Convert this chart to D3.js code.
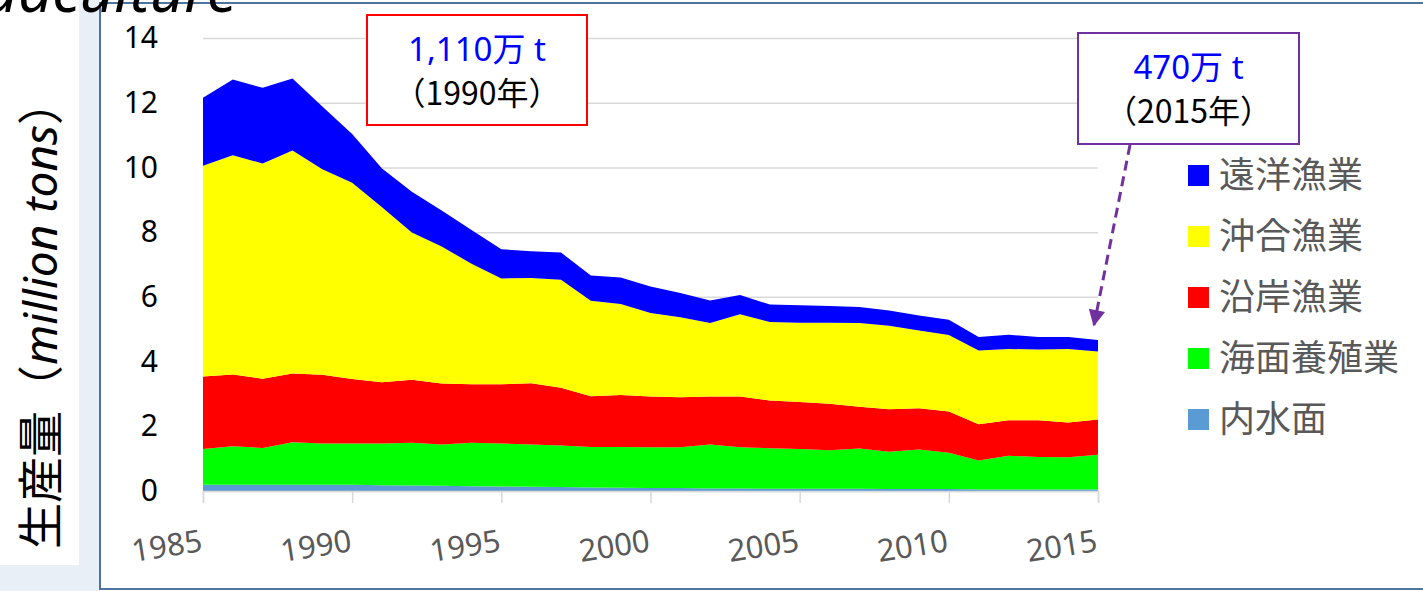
<!DOCTYPE html>
<html>
<head>
<meta charset="utf-8">
<script src="https://d3js.org/d3.v7.min.js"></script>
<style>
    body { margin: 0; background: #fff; }
    svg text { font-family: "Noto Sans", "Noto Sans CJK JP", sans-serif; }
    .cjk { font-family: "Noto Sans CJK JP", "Noto Sans", sans-serif; }
</style>
</head>
<body>
<svg width="1423" height="591"></svg>
<script>
    // production by sector, million tons
    let years = d3.range(1985, 2016)
    let inland      = [0.19,0.19,0.19,0.19,0.19,0.19,0.18,0.17,0.16,0.15,0.14,0.13,0.12,0.11,0.10,0.09,0.09,0.08,0.08,0.07,0.07,0.07,0.07,0.06,0.06,0.06,0.05,0.05,0.05,0.05,0.05]
    let aquaculture = [1.11,1.19,1.14,1.32,1.28,1.28,1.29,1.32,1.28,1.34,1.33,1.31,1.29,1.25,1.26,1.26,1.26,1.36,1.27,1.25,1.23,1.19,1.24,1.15,1.22,1.12,0.89,1.04,1.00,0.99,1.07]
    let coastal     = [2.24,2.22,2.14,2.12,2.12,1.99,1.89,1.95,1.88,1.81,1.83,1.89,1.78,1.57,1.61,1.57,1.55,1.48,1.57,1.48,1.45,1.44,1.29,1.32,1.28,1.28,1.12,1.10,1.14,1.08,1.09]
    let offshore    = [6.51,6.78,6.65,6.89,6.35,6.07,5.41,4.55,4.24,3.72,3.27,3.25,3.34,2.95,2.81,2.58,2.47,2.27,2.54,2.42,2.45,2.50,2.59,2.58,2.40,2.36,2.28,2.20,2.18,2.27,2.10]
    let distant     = [2.10,2.34,2.34,2.23,1.94,1.50,1.20,1.26,1.11,1.05,0.90,0.83,0.84,0.78,0.82,0.82,0.75,0.70,0.60,0.54,0.54,0.52,0.50,0.47,0.46,0.47,0.42,0.44,0.39,0.37,0.36]

    let keys   = ['inland', 'aquaculture', 'coastal', 'offshore', 'distant']
    let names  = {distant: '遠洋漁業', offshore: '沖合漁業', coastal: '沿岸漁業', aquaculture: '海面養殖業', inland: '内水面'}
    let colors = {distant: '#0000ff', offshore: '#ffff00', coastal: '#ff0000', aquaculture: '#00ff00', inland: '#5b9bd5'}
    let yTicks = [0, 2, 4, 6, 8, 10, 12, 14]
    let xTicks = [1985, 1990, 1995, 2000, 2005, 2010, 2015]

    let rows = years.map((yr, i) => ({
        year: yr, inland: inland[i], aquaculture: aquaculture[i],
        coastal: coastal[i], offshore: offshore[i], distant: distant[i]
    }))

    let svg = d3.select('svg')

    // slide background, left strip and panel frame
    svg.append('rect').attr('x', 0).attr('y', 0).attr('width', 100).attr('height', 591).attr('fill', '#e9eff7')
    svg.append('rect').attr('x', 0).attr('y', 0).attr('width', 79).attr('height', 565).attr('fill', '#fff')
    svg.append('rect').attr('x', 100).attr('y', 3).attr('width', 1330).attr('height', 586)
        .attr('fill', '#fff').attr('stroke', '#3a6796').attr('stroke-width', 1.8)

    // slide title, cut off by the top edge
    svg.append('text')
        .attr('x', 237).attr('y', 12)
        .attr('text-anchor', 'end')
        .attr('font-size', 60).attr('font-style', 'italic')
        .attr('fill', '#000')
        .text('Aquaculture')

    let x = d3.scaleLinear().domain([1985, 2015]).range([203, 1098])
    let y = d3.scaleLinear().domain([0, 14]).range([491, 38])

    // gridlines + y tick labels
    let yAxis = svg.append('g')
        .attr('transform', 'translate(203,0)')
        .call(d3.axisLeft(y).tickValues(yTicks).tickSize(-(1098 - 203)).tickPadding(45))
    yAxis.select('.domain').remove()
    yAxis.selectAll('line').attr('stroke', '#d9d9d9').attr('stroke-width', 1.5)
    yAxis.selectAll('text').attr('font-size', 30).attr('fill', '#000')
        .attr('font-family', '"Noto Sans", sans-serif')

    let stack = d3.stack().keys(keys)
    let series = stack(rows)
    let area = d3.area()
        .x(d => x(d.data.year))
        .y0(d => y(d[0]))
        .y1(d => y(d[1]))

    svg.append('g').selectAll('path')
        .data(series)
        .enter()
        .append('path')
        .attr('d', area)
        .attr('fill', d => colors[d.key])

    // x axis
    let xAxis = svg.append('g')
        .attr('transform', 'translate(0,491)')
        .call(d3.axisBottom(x).tickValues(xTicks).tickFormat(d3.format('d')).tickSize(12))
    xAxis.select('.domain').attr('stroke', '#d9d9d9').attr('stroke-width', 1.5)
    xAxis.selectAll('line').attr('stroke', '#d9d9d9').attr('stroke-width', 1.5)
    xAxis.selectAll('text')
        .attr('font-size', 31).attr('fill', '#595959')
        .attr('text-anchor', 'end')
        .attr('dy', 0)
        .attr('transform', 'translate(0,60) rotate(-9)')
        .attr('y', 0).attr('x', 0)

    // y axis title
    let yt = svg.append('text')
        .attr('transform', 'translate(57,314) rotate(-90)')
        .attr('text-anchor', 'middle')
        .attr('font-size', 46)
        .attr('fill', '#000')
    yt.append('tspan').attr('class', 'cjk').text('生産量（')
    yt.append('tspan').attr('font-style', 'italic').text('million tons')
    yt.append('tspan').attr('class', 'cjk').text('）')

    // legend
    let legendKeys = ['distant', 'offshore', 'coastal', 'aquaculture', 'inland']
    let lg = svg.append('g').selectAll('g')
        .data(legendKeys)
        .enter()
        .append('g')
        .attr('transform', (d, i) => 'translate(1188,' + (175 + i * 61) + ')')
    lg.append('rect').attr('x', 0).attr('y', -10).attr('width', 21).attr('height', 21)
        .attr('fill', d => colors[d])
    lg.append('text').attr('class', 'cjk')
        .attr('x', 31).attr('y', 13)
        .attr('font-size', 36).attr('fill', '#595959')
        .text(d => names[d])

    // callouts
    function callout(bx, by, bw, bh, stroke, line1, line2) {
        svg.append('rect').attr('x', bx).attr('y', by).attr('width', bw).attr('height', bh)
            .attr('fill', '#fff').attr('stroke', stroke).attr('stroke-width', 2)
        svg.append('text').attr('x', bx + bw / 2).attr('y', by + 46)
            .attr('text-anchor', 'middle').attr('font-size', 33).attr('fill', '#0000ff')
            .text(line1)
        svg.append('text').attr('class', 'cjk').attr('x', bx + bw / 2).attr('y', by + 90)
            .attr('text-anchor', 'middle').attr('font-size', 32).attr('fill', '#000')
            .text(line2)
    }
    callout(367, 15, 220, 110, '#ff0000', '1,110万 t', '（1990年）')
    callout(1078, 33, 221, 111, '#7030a0', '470万 t', '（2015年）')

    // dashed arrow to 2015 total
    svg.append('defs').append('marker')
        .attr('id', 'head').attr('viewBox', '0 0 10 10')
        .attr('refX', 9).attr('refY', 5)
        .attr('markerWidth', 6).attr('markerHeight', 5.5)
        .attr('markerUnits', 'strokeWidth')
        .attr('orient', 'auto')
        .append('path').attr('d', 'M0,0 L10,5 L0,10 z').attr('fill', '#7030a0')
    svg.append('line')
        .attr('x1', 1130).attr('y1', 145)
        .attr('x2', 1094).attr('y2', 325)
        .attr('stroke', '#7030a0').attr('stroke-width', 3)
        .attr('stroke-dasharray', '10,6')
        .attr('marker-end', 'url(#head)')
</script>
</body>
</html>
